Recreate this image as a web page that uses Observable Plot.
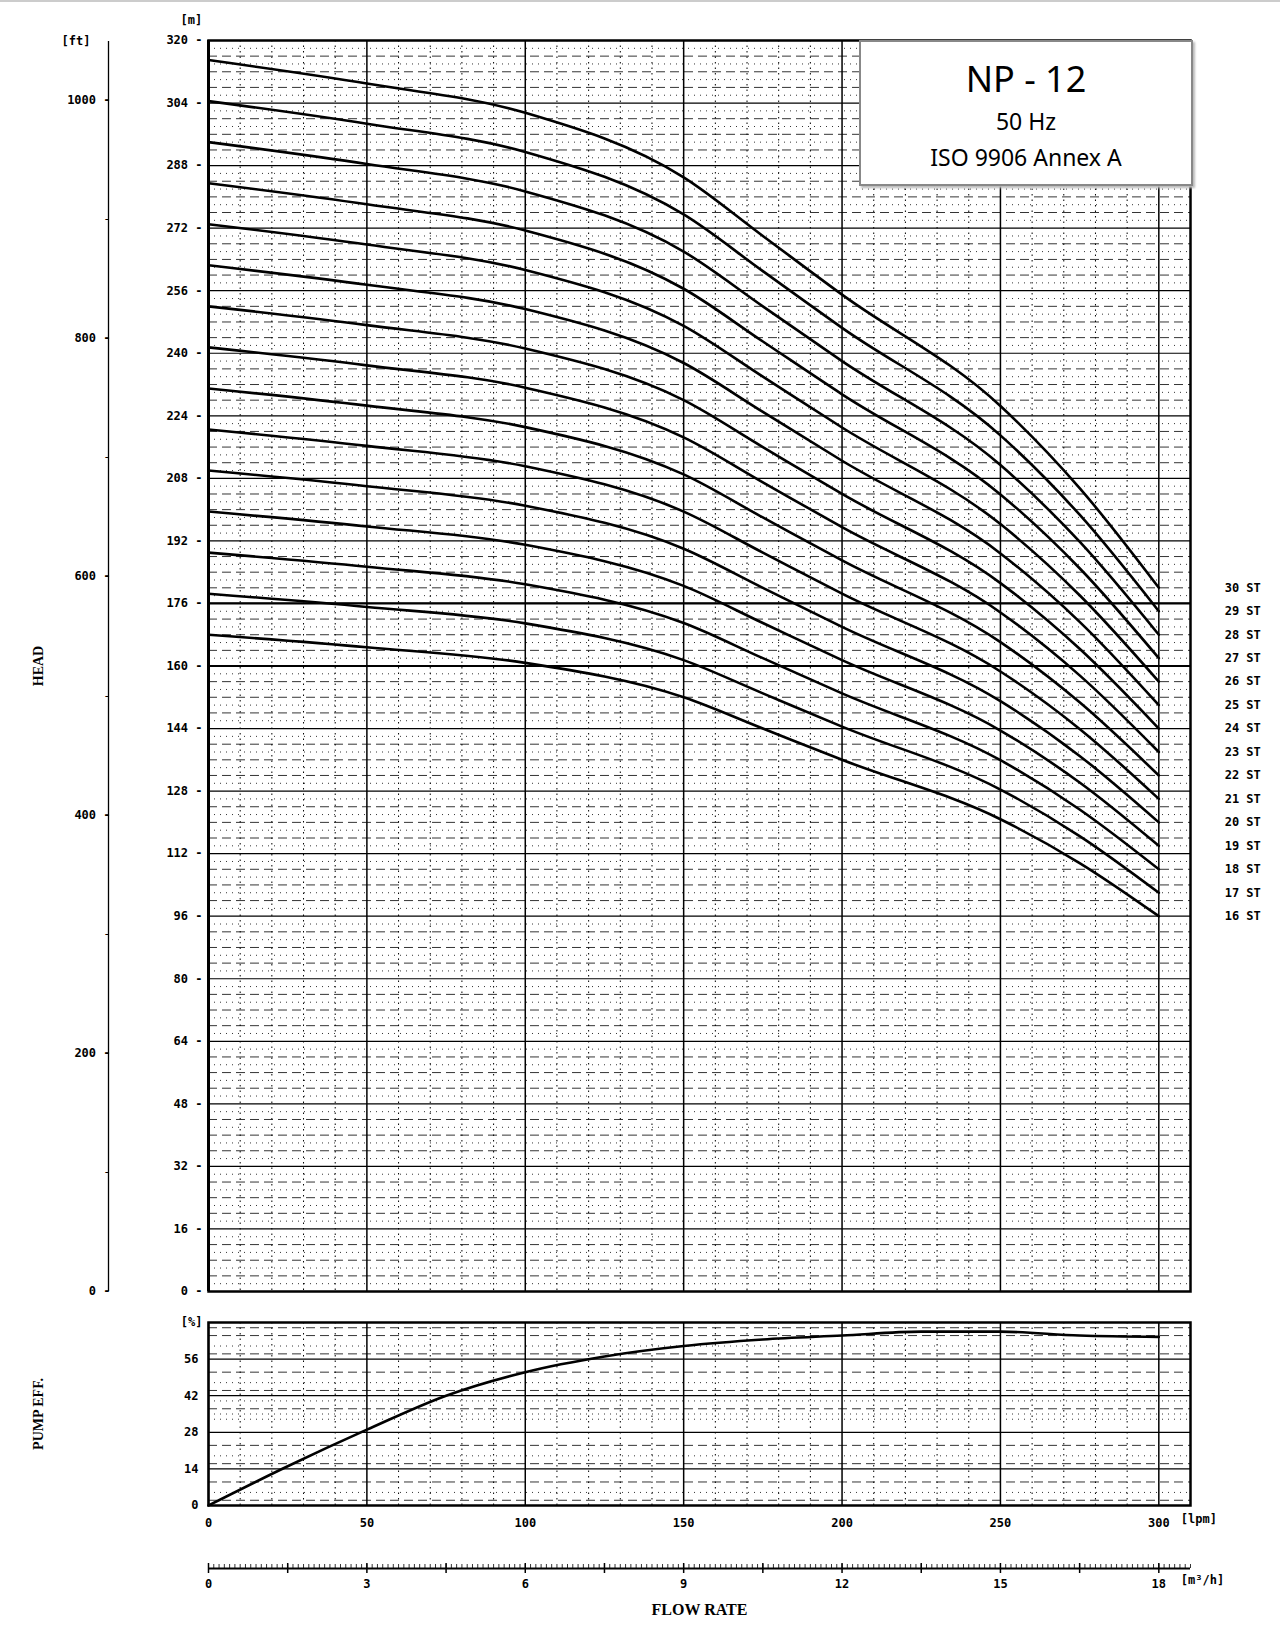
<!DOCTYPE html>
<html><head><meta charset="utf-8">
<script src="https://cdn.jsdelivr.net/npm/d3@7"></script>
<script src="https://cdn.jsdelivr.net/npm/@observablehq/plot@0.6"></script>
<style>
body{margin:0;background:#fff;font-family:"DejaVu Sans Mono",monospace;}
#wrap{position:relative;width:1280px;height:1627px;border-top:2px solid #ccc;box-sizing:border-box}
.abs{position:absolute;left:0}
#box{position:absolute;left:859px;top:38px;width:330px;height:142px;border:2px solid #888;background:#fff;text-align:center;font-family:"Noto Sans",sans-serif;box-shadow:2px 2px 2px #bbb}
</style></head><body>
<div id="wrap">
<div class="abs" id="p1" style="top:0"></div>
<div class="abs" id="p2" style="top:1300px"></div>
<div class="abs" id="p3" style="top:1540px"></div>
<div id="box"><div style="font-size:36px;margin-top:12px">NP - 12</div><div style="font-size:23px;margin-top:2px">50 Hz</div><div style="font-size:23px;margin-top:4px">ISO 9906 Annex A</div></div>
</div>
<script>
const flow = [0,50,100,150,175,200,250,275,300];
const stages = [30,29,28,27,26,25,24,23,22,21,20,19,18,17,16];
const stageLabels = ["30 ST","29 ST","28 ST","27 ST","26 ST","25 ST","24 ST","23 ST","22 ST","21 ST","20 ST","19 ST","18 ST","17 ST","16 ST"];
const heads = [
 [315,309,301.5,285,270,255,226.5,205.5,180],
 [304.5,298.7,291.5,275.5,261,246.5,219,198.7,174],
 [294,288.4,281.4,266,252,238,211.4,191.8,168],
 [283.5,278.1,271.4,256.5,243,229.5,203.9,185,162],
 [273,267.8,261.3,247,234,221,196.3,178.1,156],
 [262.5,257.5,251.3,237.5,225,212.5,188.8,171.3,150],
 [252,247.2,241.2,228,216,204,181.2,164.4,144],
 [241.5,236.9,231.2,218.5,207,195.5,173.7,157.6,138],
 [231,226.6,221.1,209,198,187,166.1,150.7,132],
 [220.5,216.3,211.1,199.5,189,178.5,158.6,143.9,126],
 [210,206,201,190,180,170,151,137,120],
 [199.5,195.7,191,180.5,171,161.5,143.5,130.2,114],
 [189,185.4,180.9,171,162,153,135.9,123.3,108],
 [178.5,175.1,170.9,161.5,153,144.5,128.4,116.5,102],
 [168,164.8,160.8,152,144,136,120.8,109.6,96]
];
const effFlow = [0,25,50,75,100,125,150,175,200,225,250,275,300];
const effVals = [0,15,29,42,51,57,61,63.5,65,66.5,66.5,65,64.5];
const headTicks = [0,16,32,48,64,80,96,112,128,144,160,176,192,208,224,240,256,272,288,304,320];
const boldHead = [160,176];
const ftTicks = [0,200,400,600,800,1000];
const ftMinor = [100,300,500,700,900];
const effTicks = [0,14,28,42,56];
const lpmTicks = [0,50,100,150,200,250,300];
const m3hTicks = [0,3,6,9,12,15,18];

const FONT = "DejaVu Sans Mono";
const W = 1280, ML = 208, MR = 90;
const dashes = [4,8,12];
const dots = [2,6,10,14];
const sub = headTicks.slice(0,-1);
const vMinor = d3.range(10,310,10).filter(v=>v%50);
const curves = [];
heads.forEach((r,i)=>r.forEach((h,j)=>curves.push({s:stages[i],q:flow[j],h})));

const p1 = Plot.plot({
  width:W, height:1300, marginLeft:ML, marginRight:MR, marginTop:38, marginBottom:11,
  x:{type:"linear",domain:[0,310], axis:null}, y:{type:"linear",domain:[0,320], axis:null},
  style:{fontFamily:FONT},
  marks:[
    Plot.ruleY(sub.flatMap(v=>dashes.map(d=>v+d)),{stroke:"#000",strokeWidth:0.8,strokeDasharray:"9,5"}),
    Plot.ruleY(sub.flatMap(v=>dots.map(d=>v+d)),{stroke:"#000",strokeWidth:0.8,strokeDasharray:"1,5"}),
    Plot.ruleX(vMinor,{stroke:"#000",strokeWidth:1,strokeDasharray:"1.5,4"}),
    Plot.ruleY(headTicks,{stroke:"#000",strokeWidth:1.2}),
    Plot.ruleY(boldHead,{stroke:"#000",strokeWidth:2.2}),
    Plot.ruleX(lpmTicks,{stroke:"#000",strokeWidth:1.5}),
    Plot.ruleX([0],{stroke:"#000",strokeWidth:3}),
    Plot.frame({stroke:"#000",strokeWidth:2.5}),
    Plot.line(curves,{x:"q",y:"h",z:"s",curve:"monotone-x",stroke:"#000",strokeWidth:2.6}),
    Plot.text(headTicks,{x:0,y:d=>d,text:d=>String(d)+" -",dx:-6,textAnchor:"end",fontSize:12,fontWeight:"bold"}),
    Plot.text(["[m]"],{x:0,y:320,dx:-28,dy:-20,textAnchor:"start",fontSize:12,fontWeight:"bold"}),
    Plot.ruleX([0],{y1:0,y2:1049/3.2808,dx:-100,stroke:"#000",strokeWidth:1.3}),
    Plot.text(ftTicks,{x:0,y:d=>d/3.2808,text:d=>d+" -",dx:-98,textAnchor:"end",fontSize:12,fontWeight:"bold"}),
    Plot.text(ftMinor,{x:0,y:d=>d/3.2808,text:d=>"-",dx:-98,textAnchor:"end",fontSize:12}),
    Plot.text(["[ft]"],{x:0,y:1049/3.2808,dx:-118,textAnchor:"end",fontSize:12,fontWeight:"bold"}),
    Plot.text(["HEAD"],{x:0,y:160,dx:-170,rotate:-90,fontSize:14,fontWeight:"bold",fontFamily:"Liberation Serif"}),
    Plot.text(stageLabels,{x:300,y:(d,i)=>stages[i]*6,dx:102,textAnchor:"end",fontSize:12,fontWeight:"bold"})
  ]
});
document.getElementById("p1").append(p1);

const p2 = Plot.plot({
  width:W, height:233, marginLeft:ML, marginRight:MR, marginTop:20, marginBottom:30,
  x:{type:"linear",domain:[0,310], axis:null}, y:{type:"linear",domain:[0,70], axis:null},
  style:{fontFamily:FONT},
  marks:[
    Plot.ruleY([2,9,16,23,37,44,51,58,65,68],{stroke:"#000",strokeWidth:0.8,strokeDasharray:"9,5"}),
    Plot.ruleY([5,19,33,35,40,47,61],{stroke:"#000",strokeWidth:0.8,strokeDasharray:"1,5"}),
    Plot.ruleX(vMinor,{stroke:"#000",strokeWidth:1,strokeDasharray:"1.5,4"}),
    Plot.ruleY(effTicks,{stroke:"#000",strokeWidth:1.2}),
    Plot.ruleX(lpmTicks,{stroke:"#000",strokeWidth:1.5}),
    Plot.frame({stroke:"#000",strokeWidth:2.5}),
    Plot.line(effFlow.map((q,i)=>({q,e:effVals[i]})),{x:"q",y:"e",curve:"monotone-x",stroke:"#000",strokeWidth:2.6}),
    Plot.text(effTicks,{x:0,y:d=>d,text:d=>String(d),dx:-10,textAnchor:"end",fontSize:12,fontWeight:"bold"}),
    Plot.text(["[%]"],{x:0,y:70,dx:-6,textAnchor:"end",fontSize:12,fontWeight:"bold"}),
    Plot.text(lpmTicks,{x:d=>d,y:0,text:d=>String(d),dy:18,fontSize:12,fontWeight:"bold"}),
    Plot.text(["[lpm]"],{x:300,y:0,dx:22,dy:14,textAnchor:"start",fontSize:12,fontWeight:"bold"}),
    Plot.text(["PUMP EFF."],{x:0,y:35,dx:-170,rotate:-90,fontSize:14,fontWeight:"bold",fontFamily:"Liberation Serif"})
  ]
});
document.getElementById("p2").append(p2);

const p3 = Plot.plot({
  width:W, height:87, marginLeft:ML, marginRight:MR, marginTop:16, marginBottom:61,
  x:{type:"linear",domain:[0,18.6], axis:null}, y:{type:"linear",domain:[0,1], axis:null},
  style:{fontFamily:FONT},
  marks:[
    Plot.ruleX(d3.range(0,18.61,0.1),{y1:0,y2:0.4,stroke:"#000",strokeWidth:0.8}),
    Plot.ruleX(d3.range(0,18.1,1.5),{y1:-0.5,y2:0.5,stroke:"#000",strokeWidth:1.5}),
    Plot.ruleY([0],{stroke:"#000",strokeWidth:2}),
    Plot.text(m3hTicks,{x:d=>d,y:0,text:d=>String(d),dy:16,fontSize:12,fontWeight:"bold"}),
    Plot.text(["[m³/h]"],{x:18,y:0,dx:22,dy:12,textAnchor:"start",fontSize:12,fontWeight:"bold"}),
    Plot.text(["FLOW RATE"],{x:9.3,y:0,dy:41,fontSize:16,fontWeight:"bold",fontFamily:"Liberation Serif"})
  ]
});
document.getElementById("p3").append(p3);
</script></body></html>
